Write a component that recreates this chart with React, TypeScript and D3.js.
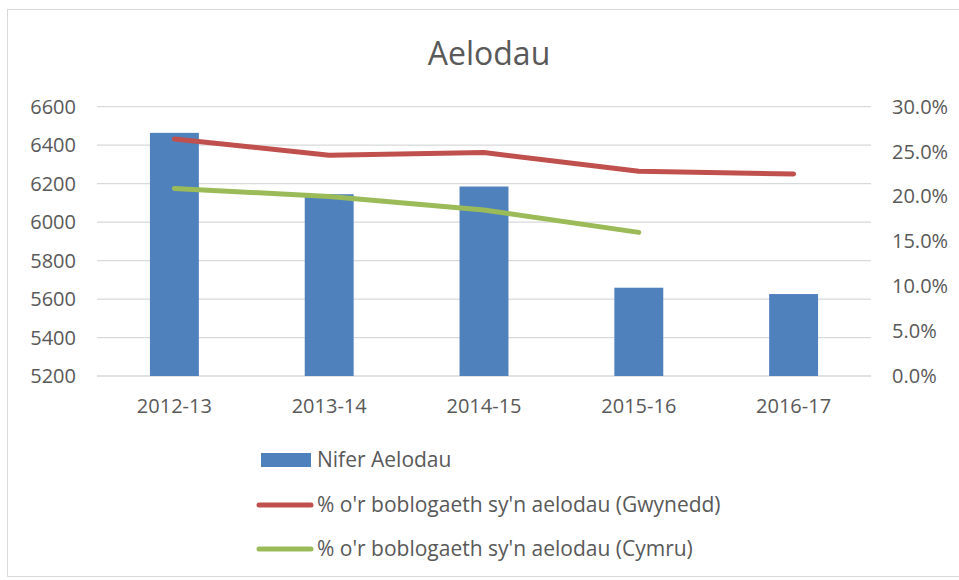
import * as d3 from 'd3'
import { useEffect, useRef } from 'react'

const categories = ['2012-13', '2013-14', '2014-15', '2015-16', '2016-17']
const members = [6464, 6145, 6185, 5659, 5626]
const gwynedd = [0.264, 0.246, 0.249, 0.228, 0.225]
const cymru: (number | null)[] = [0.209, 0.2, 0.185, 0.16, null]
const leftTicks = [5200, 5400, 5600, 5800, 6000, 6200, 6400, 6600]
const rightTicks = [0, 0.05, 0.1, 0.15, 0.2, 0.25, 0.3]

const seriesNames = [
  'Nifer Aelodau',
  "% o'r boblogaeth sy'n aelodau (Gwynedd)",
  "% o'r boblogaeth sy'n aelodau (Cymru)"
]

const BLUE = '#4F81BD'
const RED = '#C0504D'
const GREEN = '#9BBB59'
const TEXT = '#595959'
const FONT = '"Open Sans", Lato, sans-serif'

export default function App() {
  const svgRef = useRef<SVGSVGElement | null>(null)

  useEffect(() => {
    if (!svgRef.current) return
    const width = 959
    const height = 580
    const plot = { left: 97, right: 871, top: 106.7, bottom: 376 }

    const svg = d3.select(svgRef.current)
    svg.selectAll('*').remove()
    svg.attr('width', width).attr('height', height)

    svg
      .append('rect')
      .attr('x', 7.5)
      .attr('y', 9.5)
      .attr('width', width)
      .attr('height', height - 13)
      .attr('fill', '#fff')
      .attr('stroke', '#D9D9D9')

    const x = d3
      .scaleBand<string>()
      .domain(categories)
      .range([plot.left, plot.right])
      .paddingInner(0.684)
      .paddingOuter(0.342)

    const yLeft = d3.scaleLinear().domain([5200, 6600]).range([plot.bottom, plot.top])
    const yRight = d3.scaleLinear().domain([0, 0.3]).range([plot.bottom, plot.top])
    const cx = (c: string) => (x(c) ?? 0) + x.bandwidth() / 2

    // title
    svg
      .append('text')
      .attr('x', 489)
      .attr('y', 65)
      .attr('text-anchor', 'middle')
      .attr('font-family', FONT)
      .attr('font-size', 32)
      .attr('fill', TEXT)
      .text('Aelodau')

    // gridlines
    svg
      .append('g')
      .selectAll('line')
      .data(leftTicks)
      .join('line')
      .attr('x1', plot.left)
      .attr('x2', plot.right)
      .attr('y1', d => yLeft(d))
      .attr('y2', d => yLeft(d))
      .attr('stroke', '#D9D9D9')
      .attr('stroke-width', 1.3)

    const tickSize = 20

    // left tick labels
    svg
      .append('g')
      .selectAll('text')
      .data(leftTicks)
      .join('text')
      .attr('x', 76)
      .attr('y', d => yLeft(d))
      .attr('dy', '0.35em')
      .attr('text-anchor', 'end')
      .attr('font-family', FONT)
      .attr('font-size', tickSize)
      .attr('fill', TEXT)
      .text(d => String(d))

    // right tick labels
    svg
      .append('g')
      .selectAll('text')
      .data(rightTicks)
      .join('text')
      .attr('x', 892)
      .attr('y', d => yRight(d))
      .attr('dy', '0.35em')
      .attr('font-family', FONT)
      .attr('font-size', tickSize)
      .attr('fill', TEXT)
      .text(d => d3.format('.1%')(d))

    // x labels
    svg
      .append('g')
      .selectAll('text')
      .data(categories)
      .join('text')
      .attr('x', d => cx(d))
      .attr('y', 406)
      .attr('dy', '0.35em')
      .attr('text-anchor', 'middle')
      .attr('font-family', FONT)
      .attr('font-size', tickSize)
      .attr('fill', TEXT)
      .text(d => d)

    // bars
    svg
      .append('g')
      .selectAll('rect')
      .data(members)
      .join('rect')
      .attr('x', (_, i) => x(categories[i]) ?? 0)
      .attr('y', d => yLeft(d))
      .attr('width', x.bandwidth())
      .attr('height', d => plot.bottom - yLeft(d))
      .attr('fill', BLUE)

    // lines
    const line = d3
      .line<number | null>()
      .defined(d => d !== null)
      .x((_, i) => cx(categories[i]))
      .y(d => yRight(d as number))

    ;[
      { data: gwynedd, color: RED },
      { data: cymru, color: GREEN }
    ].forEach(s => {
      svg
        .append('path')
        .datum(s.data)
        .attr('fill', 'none')
        .attr('stroke', s.color)
        .attr('stroke-width', 5)
        .attr('stroke-linecap', 'round')
        .attr('stroke-linejoin', 'round')
        .attr('d', line)
    })

    // legend
    const legendY = [460, 505, 549]
    const legend = svg.append('g')
    legend
      .append('rect')
      .attr('x', 261)
      .attr('y', legendY[0] - 7)
      .attr('width', 50)
      .attr('height', 14)
      .attr('fill', BLUE)
    ;[RED, GREEN].forEach((c, i) => {
      legend
        .append('line')
        .attr('x1', 259)
        .attr('x2', 311)
        .attr('y1', legendY[i + 1])
        .attr('y2', legendY[i + 1])
        .attr('stroke', c)
        .attr('stroke-width', 5)
        .attr('stroke-linecap', 'round')
    })
    legend
      .selectAll('text')
      .data(seriesNames)
      .join('text')
      .attr('x', 317)
      .attr('y', (_, i) => legendY[i])
      .attr('dy', '0.35em')
      .attr('font-family', FONT)
      .attr('font-size', 21)
      .attr('fill', TEXT)
      .text(d => d)
  }, [])

  return (
    <div style={{ position: 'absolute', left: 0, top: 0 }}>
      <svg ref={svgRef} style={{ display: 'block' }} />
    </div>
  )
}
